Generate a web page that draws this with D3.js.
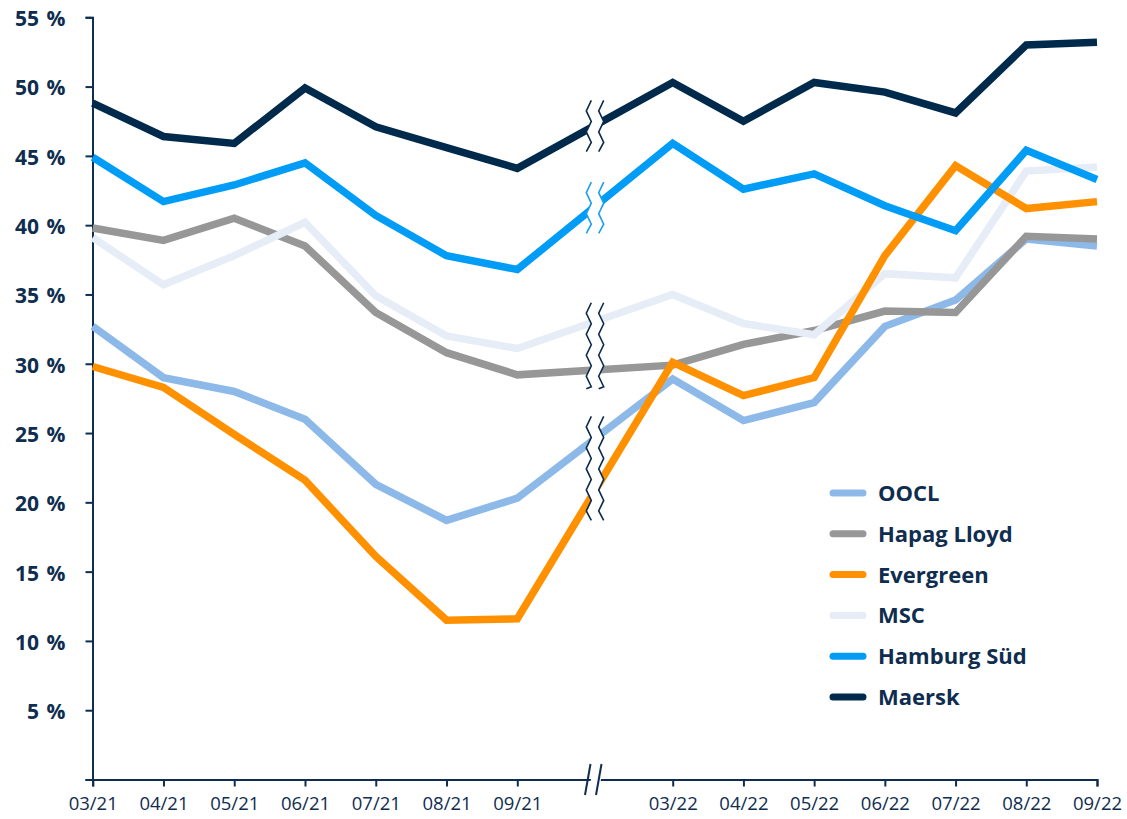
<!DOCTYPE html>
<html><head><meta charset="utf-8">
<script src="https://cdn.jsdelivr.net/npm/d3@7"></script>
<style>
body{margin:0;background:#fff;}
svg{display:block;}
</style></head>
<body><svg id="chart" width="1127" height="819"></svg>
<script>
const months = ["03/21","04/21","05/21","06/21","07/21","08/21","09/21","03/22","04/22","05/22","06/22","07/22","08/22","09/22"];
const seriesNames = ["OOCL","Hapag Lloyd","Evergreen","MSC","Hamburg Süd","Maersk"];
const oocl      = [32.7,29.0,28.0,26.0,21.3,18.7,20.3,28.9,25.9,27.2,32.7,34.6,39.0,38.5];
const hapag     = [39.8,38.9,40.5,38.5,33.7,30.8,29.2,29.9,31.4,32.4,33.8,33.7,39.2,39.0];
const evergreen = [29.8,28.3,24.9,21.6,16.1,11.5,11.6,30.1,27.7,29.0,37.8,44.3,41.2,41.7];
const msc       = [39.1,35.7,37.8,40.2,34.9,32.0,31.1,35.0,32.9,32.1,36.5,36.2,43.9,44.2];
const hamburg   = [44.9,41.7,42.9,44.5,40.7,37.8,36.8,45.9,42.6,43.7,41.4,39.6,45.4,43.3];
const maersk    = [48.8,46.4,45.9,49.9,47.1,45.6,44.1,50.3,47.5,50.3,49.6,48.1,53.0,53.2];
const yTicks = [0,5,10,15,20,25,30,35,40,45,50,55];
const colors = ["#8db9e9","#979797","#ff9100","#e6edf6","#009cf6","#002a4c"];
// draw order (bottom to top)
const drawOrder = ["OOCL","Hapag Lloyd","MSC","Evergreen","Hamburg Süd","Maersk"];
// break markers between 09/21 and 03/22 (value range covered, colour)
const breakTops    = [49.0,43.1,34.4,26.2];
const breakBottoms = [45.3,39.4,28.2,18.7];
const breakColors  = ["#0b2b4d","#1a9ff0","#0b2b4d","#0b2b4d"];

const values = [oocl,hapag,evergreen,msc,hamburg,maersk];
const svg = d3.select("#chart");
const navy = "#0f2d4f";

const x = d3.scaleLinear().domain([0,6,7,13]).range([92.7,517.3,672.7,1097]);
const y = d3.scaleLinear().domain([0,55]).range([779.5,17.3]);

// axes
const yAxis = svg.append("g").attr("transform","translate(92.5,0)")
  .call(d3.axisLeft(y).tickValues(yTicks).tickSize(7).tickPadding(20)
    .tickFormat(d => d === 0 ? "" : d + "\u00a0%"));
yAxis.select(".domain").attr("stroke",navy).attr("stroke-width",2);
yAxis.selectAll(".tick line").attr("stroke",navy).attr("stroke-width",2);
yAxis.selectAll("text").attr("fill",navy).style("font-family","Open Sans")
  .style("font-size","21px").style("font-weight","bold").style("word-spacing","2px").attr("dy","0.4em");

const xAxis = svg.append("g").attr("transform","translate(0,779.5)")
  .call(d3.axisBottom(x).tickValues(d3.range(months.length)).tickSize(7).tickPadding(10)
    .tickFormat(i => months[i]));
xAxis.select(".domain").attr("stroke",navy).attr("stroke-width",2);
xAxis.selectAll(".tick line").attr("stroke",navy).attr("stroke-width",2);
xAxis.selectAll("text").attr("fill",navy).style("font-family","Open Sans")
  .style("font-size","18.5px").attr("dy","0.75em");

// x-axis break //
const bx = x(6.5);
svg.append("polygon")
  .attr("points",[[bx-9,795],[bx+1,795],[bx+11,764],[bx+1,764]].map(p=>p.join(",")).join(" "))
  .attr("fill","#fff");
[-10,1].forEach(a=>{
  svg.append("line").attr("x1",bx+a).attr("y1",795).attr("x2",bx+a+5.5).attr("y2",764)
    .attr("stroke",navy).attr("stroke-width",2);
});

// lines
const line = d3.line().x((d,i)=>x(i)).y(d=>y(d));
drawOrder.forEach(name=>{
  const k = seriesNames.indexOf(name);
  svg.append("path").datum(values[k]).attr("d",line)
    .attr("fill","none").attr("stroke",colors[k]).attr("stroke-width",7.5)
    .attr("stroke-linejoin","miter").attr("stroke-linecap","butt");
});

// break markers (double zigzag, white between)
function zig(cx, y0, y1){
  const pts=[]; const step=10.5; let k=0;
  for(let yy=y0; yy<=y1; yy+=step){ pts.push([cx + (k%2===0?2.5:-2.5), yy]); k++; }
  pts.push([cx + (k%2===0?2.5:-2.5), y1]);
  return pts;
}
breakTops.forEach((t,i)=>{
  const y0=y(t), y1=y(breakBottoms[i]);
  const left=zig(bx-6.2,y0,y1), right=zig(bx+6.2,y0,y1);
  const poly = left.concat(right.slice().reverse());
  svg.append("polygon").attr("points",poly.map(p=>p.join(",")).join(" ")).attr("fill","#fff");
  [left,right].forEach(pts=>{
    svg.append("path").attr("d",d3.line()(pts)).attr("fill","none")
      .attr("stroke",breakColors[i]).attr("stroke-width",1.6);
  });
});

// legend
const leg = svg.append("g");
seriesNames.forEach((name,i)=>{
  const yy = 493 + i*40.8;
  leg.append("line").attr("x1",833).attr("x2",863).attr("y1",yy).attr("y2",yy)
    .attr("stroke",colors[i]).attr("stroke-width",7).attr("stroke-linecap","round");
  leg.append("text").attr("x",878).attr("y",yy).attr("dy","0.36em").text(name)
    .attr("fill",navy).style("font-family","Open Sans").style("font-size","22px").style("font-weight","bold");
});
</script></body></html>
